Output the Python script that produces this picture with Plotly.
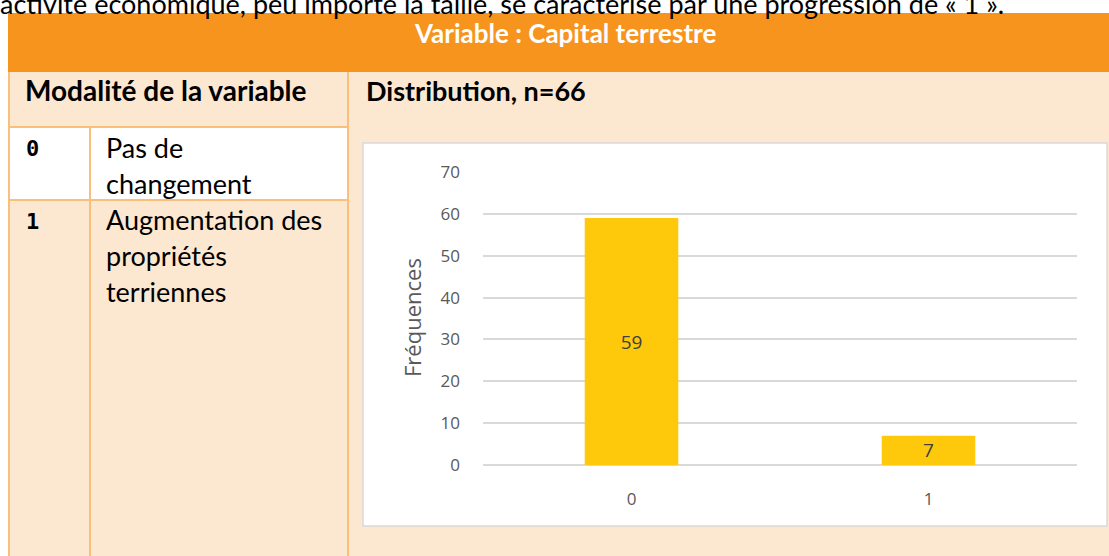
import plotly.graph_objects as go

# ---- data ----
categories = ["0", "1"]
frequencies = [59, 7]
y_ticks = [0, 10, 20, 30, 40, 50, 60, 70]

title_text = "Variable : Capital terrestre"
col1_header = "Modalité de la variable"
col2_header = "Distribution, n=66"
modalities = ["0", "1"]
modality_labels = [["Pas de", "changement"], ["Augmentation des", "propriétés", "terriennes"]]
top_line = "activité économique, peu importe la taille, se caractérise par une progression de « 1 »."

# ---- geometry (pixels) ----
W, H = 1109, 556
L, R, T, B = 483, 1077, 172, 465


def fx(px):
    return (px - L) / (R - L)


def fy(py):
    return (B - py) / (B - T)


ORANGE = "#F7941D"
PEACH = "#FCE7D1"
LINE = "#FABF7A"
GRAY = "#595959"
TFONT = "Lato"

fig = go.Figure()
fig.add_trace(go.Bar(
    x=categories, y=frequencies,
    marker=dict(color="#FFC90B", line=dict(width=0)),
    text=[str(v) for v in frequencies],
    textposition="inside", insidetextanchor="middle", textangle=0,
    constraintext="none",
    textfont=dict(family="Open Sans", size=19, color="#404040"),
    width=0.315, hoverinfo="skip",
))

shapes = []


def rect(x0, y0, x1, y1, fill, line_color=None, lw=0):
    shapes.append(dict(type="rect", xref="paper", yref="paper", layer="below",
                       x0=fx(x0), x1=fx(x1), y0=fy(y0), y1=fy(y1),
                       fillcolor=fill,
                       line=dict(color=line_color or fill, width=lw)))


def line(x0, y0, x1, y1, color=LINE, lw=2):
    shapes.append(dict(type="line", xref="paper", yref="paper", layer="below",
                       x0=fx(x0), x1=fx(x1), y0=fy(y0), y1=fy(y1),
                       line=dict(color=color, width=lw)))


# table backgrounds
rect(8, 72, W + 5, H + 5, PEACH)
rect(9, 127, 348, 200, "#FFFFFF")
rect(8, 13, W + 5, 72, ORANGE)
# table lines
line(9, 72, 9, H + 5)
line(90, 127, 90, H + 5)
line(348, 72, 348, H + 5)
line(9, 127, 348, 127)
line(9, 200, 348, 200)
# chart box
rect(363, 143, 1107, 526, "#FFFFFF", "#D9D9D9", 1.5)

annotations = []


def text(px, py, s, size=22, color="black", bold=False, anchor="left", family=TFONT, angle=0):
    annotations.append(dict(xref="paper", yref="paper", x=fx(px), y=fy(py),
                            text=f"<b>{s}</b>" if bold else s, showarrow=False,
                            xanchor=anchor, yanchor="middle", textangle=angle,
                            font=dict(family=family, size=size, color=color)))


text(-2, 3, top_line, size=27, color="#000000")
text(565, 33, title_text, size=26, color="#FFFFFF", bold=True, anchor="center")
text(23, 90, col1_header, size=28, bold=True)
text(364, 90, col2_header, size=27, bold=True)
row_y = [147, 219]
for m, labels, y0 in zip(modalities, modality_labels, row_y):
    text(24, y0 + 2, m, size=22, bold=True, family="DejaVu Sans Mono")
    for i, s in enumerate(labels):
        text(104, y0 + i * 36, s, size=27)

text(412, 318, "Fréquences", size=22, color=GRAY, anchor="center", family="Open Sans", angle=-90)

fig.update_layout(
    width=W, height=H,
    margin=dict(l=L, r=W - R, t=T, b=H - B, pad=0),
    paper_bgcolor="#FFFFFF", plot_bgcolor="#FFFFFF",
    showlegend=False, bargap=0.685,
    shapes=shapes, annotations=annotations,
    xaxis=dict(showgrid=False, showline=False, zeroline=False,
               tickfont=dict(family="Open Sans", size=17, color=GRAY),
               ticklabelstandoff=22),
    yaxis=dict(range=[0, 70], tickvals=y_ticks, showgrid=True, gridcolor="#D9D9D9", gridwidth=1.5,
               zeroline=True, zerolinecolor="#D9D9D9", zerolinewidth=1.5, showline=False,
               tickfont=dict(family="Open Sans", size=17, color=GRAY),
               ticklabelstandoff=22),
)

fig.write_html("out.html", config={"displayModeBar": False},
               post_script="document.body.style.margin='0';document.body.style.overflow='hidden';")
